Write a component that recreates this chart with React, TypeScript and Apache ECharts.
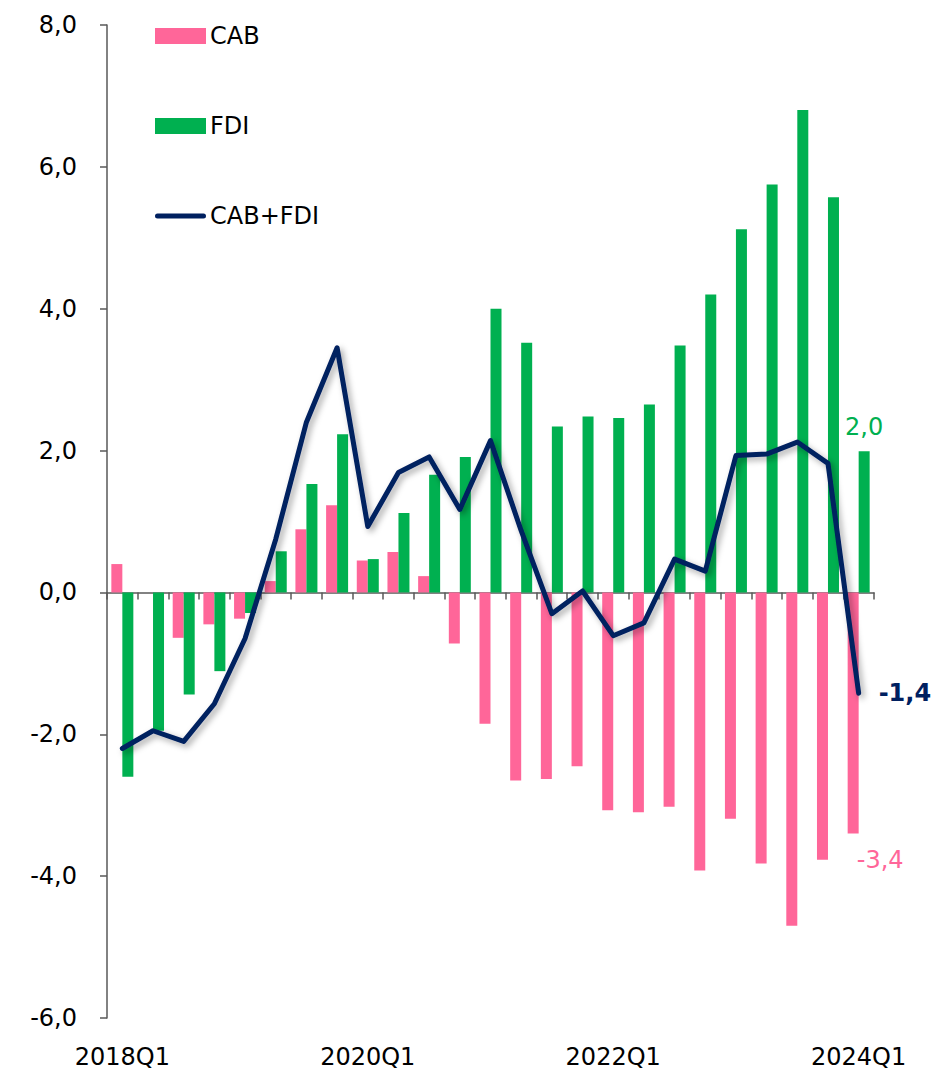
import React, { useEffect, useRef } from "react";
import * as echarts from "echarts";

const categories = [
  "2018Q1", "2018Q2", "2018Q3", "2018Q4",
  "2019Q1", "2019Q2", "2019Q3", "2019Q4",
  "2020Q1", "2020Q2", "2020Q3", "2020Q4",
  "2021Q1", "2021Q2", "2021Q3", "2021Q4",
  "2022Q1", "2022Q2", "2022Q3", "2022Q4",
  "2023Q1", "2023Q2", "2023Q3", "2023Q4",
  "2024Q1",
];

const cab = [
  0.4, 0, -0.64, -0.45, -0.37, 0.16, 0.89, 1.23, 0.45, 0.57, 0.23, -0.72,
  -1.85, -2.65, -2.63, -2.45, -3.07, -3.1, -3.02, -3.92, -3.19, -3.82, -4.7,
  -3.77, -3.4,
];

const fdi = [
  -2.6, -1.95, -1.44, -1.11, -0.29, 0.58, 1.53, 2.23, 0.47, 1.12, 1.66, 1.91,
  4.0, 3.52, 2.34, 2.48, 2.46, 2.65, 3.48, 4.2, 5.12, 5.75, 6.8, 5.57, 1.99,
];

const cabFdi = [
  -2.2, -1.95, -2.1, -1.57, -0.65, 0.75, 2.4, 3.45, 0.93, 1.69, 1.91, 1.17,
  2.14, 0.87, -0.3, 0.02, -0.61, -0.43, 0.47, 0.3, 1.93, 1.95, 2.12, 1.82,
  -1.42,
];

const FONT = "DejaVu Sans";
const PINK = "#FF6699";
const GREEN = "#00B050";
const NAVY = "#002060";
const AXIS = "#595959";

const fmt = (v: number) => v.toFixed(1).replace(".", ",");

export default function App() {
  const ref = useRef<HTMLDivElement>(null);

  useEffect(() => {
    document.body.style.margin = "0";
    if (!ref.current) return;
    const chart = echarts.init(ref.current, null, { renderer: "svg" });
    const last = categories.length - 1;

    const cabData = cab.map((v, i) =>
      i === last
        ? {
            value: v,
            label: {
              show: true,
              position: "bottom",
              distance: 14,
              offset: [27, 0],
              formatter: () => fmt(v),
              color: PINK,
              fontSize: 24,
              fontFamily: FONT,
            },
          }
        : v
    );
    const fdiData = fdi.map((v, i) =>
      i === last
        ? {
            value: v,
            label: {
              show: true,
              position: "top",
              distance: 12,
              formatter: () => fmt(v),
              color: GREEN,
              fontSize: 24,
              fontFamily: FONT,
            },
          }
        : v
    );

    chart.setOption({
      animation: false,
      textStyle: { fontFamily: FONT },
      grid: { left: 107, right: 58, top: 25, bottom: 59, containLabel: false },
      legend: {
        orient: "vertical",
        left: 150,
        top: 19,
        itemWidth: 51,
        itemHeight: 16,
        itemGap: 66,
        textStyle: {
          fontSize: 24,
          lineHeight: 24,
          color: "#000",
          fontFamily: FONT,
          padding: [0, 0, 0, -1],
        },
        data: [
          { name: "CAB", icon: "rect" },
          { name: "FDI", icon: "rect" },
          {
            name: "CAB+FDI",
            icon: "path://M2.5,0 L48.5,0 A2.5,2.5 0 0 1 48.5,5 L2.5,5 A2.5,2.5 0 0 1 2.5,0 Z",
            itemStyle: { color: NAVY, borderWidth: 0 },
          },
        ],
      },
      xAxis: [
        {
          type: "category",
          data: categories,
          axisLine: { onZero: true, lineStyle: { color: AXIS, width: 1.5 } },
          axisTick: { show: true, interval: 0, length: 7, lineStyle: { color: AXIS, width: 1.5 } },
          axisLabel: { show: false },
        },
        {
          type: "category",
          data: categories,
          position: "bottom",
          axisLine: { show: false, onZero: false },
          axisTick: { show: false },
          axisLabel: {
            interval: 7,
            fontSize: 24,
            color: "#000",
            margin: 27,
            fontFamily: FONT,
          },
        },
      ],
      yAxis: {
        type: "value",
        min: -6,
        max: 8,
        interval: 2,
        splitLine: { show: false },
        axisLine: { show: true, lineStyle: { color: AXIS, width: 1.5 } },
        axisTick: { show: true, length: 7, lineStyle: { color: AXIS, width: 1.5 } },
        axisLabel: {
          formatter: (v: number) => fmt(v),
          fontSize: 24,
          color: "#000",
          margin: 30,
          fontFamily: FONT,
        },
      },
      series: [
        {
          name: "CAB",
          type: "bar",
          xAxisIndex: 0,
          data: cabData,
          barWidth: 11,
          barGap: "0%",
          itemStyle: { color: PINK },
        },
        {
          name: "FDI",
          type: "bar",
          xAxisIndex: 0,
          data: fdiData,
          barWidth: 11,
          barGap: "0%",
          itemStyle: { color: GREEN },
        },
        {
          name: "CAB+FDI",
          type: "line",
          xAxisIndex: 0,
          data: cabFdi,
          symbol: "none",
          z: 5,
          lineStyle: {
            color: NAVY,
            width: 5,
            cap: "round",
            join: "round",
            shadowColor: "rgba(0,0,0,0.35)",
            shadowBlur: 6,
            shadowOffsetX: 3,
            shadowOffsetY: 3,
          },
          itemStyle: { color: NAVY },
          endLabel: {
            show: true,
            distance: 20,
            formatter: (p: any) => fmt(p.value),
            color: NAVY,
            fontSize: 24,
            fontWeight: "bold",
            fontFamily: FONT,
          },
        },
      ],
    });

    return () => chart.dispose();
  }, []);

  return <div ref={ref} style={{ width: 932, height: 1077 }} />;
}
